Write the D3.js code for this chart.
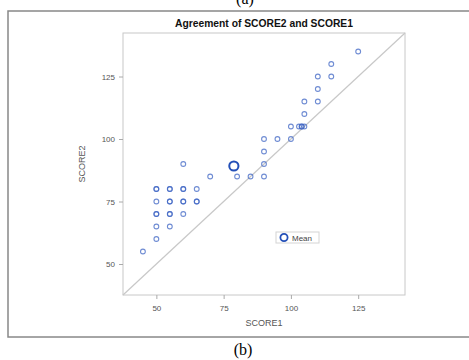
<!DOCTYPE html>
<meta charset="utf-8">
<style>
    body { margin: 0; background: #fff; }
    svg text { font-family: "Liberation Sans", Arial, sans-serif; }
    .tick text { font-size: 8px; fill: #555; }
    .tick line { stroke: #aaa; }
    .domain { display: none; }
</style>
<svg width="469" height="360"></svg>
<script src="https://d3js.org/d3.v7.min.js"></script>
<script>
    // values
    var score1 = [45, 50, 50, 50, 50, 50, 50, 50,
        55, 55, 55, 55, 55, 55, 55,
        60, 60, 60, 60, 60, 60, 65, 65, 65,
        70, 80, 85, 90, 90, 90, 90, 95,
        100, 100, 103, 104, 104, 105, 105, 105, 110, 110, 110, 115, 115, 125];
    var score2 = [55, 60, 65, 70, 70, 75, 80, 80,
        65, 70, 70, 75, 75, 80, 80,
        70, 75, 75, 80, 80, 90, 75, 75, 80,
        85, 85, 85, 85, 90, 95, 100, 100,
        100, 105, 105, 105, 105, 105, 110, 115, 115, 120, 125, 125, 130, 135];
    var meanScore1 = 78.8, meanScore2 = 89.2;
    var tickValues = [50, 75, 100, 125];
    var axisDomain = [37.6, 142.4];

    var svg = d3.select("svg");
    var plotLeft = 123, plotRight = 405, plotTop = 33, plotBottom = 295;

    var x = d3.scaleLinear().domain(axisDomain).range([plotLeft, plotRight]);
    var y = d3.scaleLinear().domain(axisDomain).range([plotBottom, plotTop]);

    // figure frame and panel captions
    svg.append("rect")
        .attr("x", 8).attr("y", 11).attr("width", 480).attr("height", 326)
        .attr("fill", "none").attr("stroke", "#888").attr("stroke-width", 1.5);
    svg.append("text").attr("x", 245).attr("y", 4)
        .attr("text-anchor", "middle")
        .style("font-family", "'Liberation Serif', serif").style("font-size", "16px")
        .text("(a)");
    svg.append("text").attr("x", 243).attr("y", 355)
        .attr("text-anchor", "middle")
        .style("font-family", "'Liberation Serif', serif").style("font-size", "16px")
        .text("(b)");

    // plot box
    svg.append("rect")
        .attr("x", plotLeft).attr("y", plotTop)
        .attr("width", plotRight - plotLeft).attr("height", plotBottom - plotTop)
        .attr("fill", "none").attr("stroke", "#c8c8c8");

    // line of agreement
    svg.append("line")
        .attr("x1", x(axisDomain[0])).attr("y1", y(axisDomain[0]))
        .attr("x2", x(axisDomain[1])).attr("y2", y(axisDomain[1]))
        .attr("stroke", "#c8c8c8").attr("stroke-width", 1.2);

    svg.append("g")
        .attr("transform", "translate(0," + plotBottom + ")")
        .call(d3.axisBottom(x).tickValues(tickValues).tickSizeOuter(0).tickSize(4).tickPadding(6));
    svg.append("g")
        .attr("transform", "translate(" + plotLeft + ",0)")
        .call(d3.axisLeft(y).tickValues(tickValues).tickSizeOuter(0).tickSize(4).tickPadding(4));

    svg.append("text")
        .attr("x", (plotLeft + plotRight) / 2).attr("y", 326)
        .attr("text-anchor", "middle")
        .style("font-size", "9px").style("fill", "#555")
        .text("SCORE1");
    svg.append("text")
        .attr("transform", "translate(85," + (plotTop + plotBottom) / 2 + ") rotate(-90)")
        .attr("text-anchor", "middle")
        .style("font-size", "9px").style("fill", "#555")
        .text("SCORE2");

    svg.append("text")
        .attr("x", (plotLeft + plotRight) / 2).attr("y", 27)
        .attr("text-anchor", "middle")
        .style("font-size", "10.3px").style("font-weight", "bold").style("fill", "#111")
        .text("Agreement of SCORE2 and SCORE1");

    // observations
    svg.append("g").selectAll("circle")
        .data(d3.range(score1.length))
        .enter().append("circle")
        .attr("cx", function(i) { return x(score1[i]); })
        .attr("cy", function(i) { return y(score2[i]); })
        .attr("r", 2.4)
        .attr("fill", "none")
        .attr("stroke", "#3f66c4")
        .attr("stroke-opacity", 0.75)
        .attr("stroke-width", 1.1);

    // mean
    svg.append("circle")
        .attr("cx", x(meanScore1)).attr("cy", y(meanScore2))
        .attr("r", 4.6)
        .attr("fill", "none").attr("stroke", "#2450b8").attr("stroke-width", 2);

    // legend
    var lg = svg.append("g").attr("transform", "translate(276,232)");
    lg.append("rect").attr("width", 43).attr("height", 11)
        .attr("fill", "#fff").attr("stroke", "#d4d4d4");
    lg.append("circle").attr("cx", 8).attr("cy", 5.5).attr("r", 3.6)
        .attr("fill", "none").attr("stroke", "#2450b8").attr("stroke-width", 1.8);
    lg.append("text").attr("x", 16).attr("y", 8.5)
        .style("font-size", "8px").style("fill", "#444")
        .text("Mean");
</script>
